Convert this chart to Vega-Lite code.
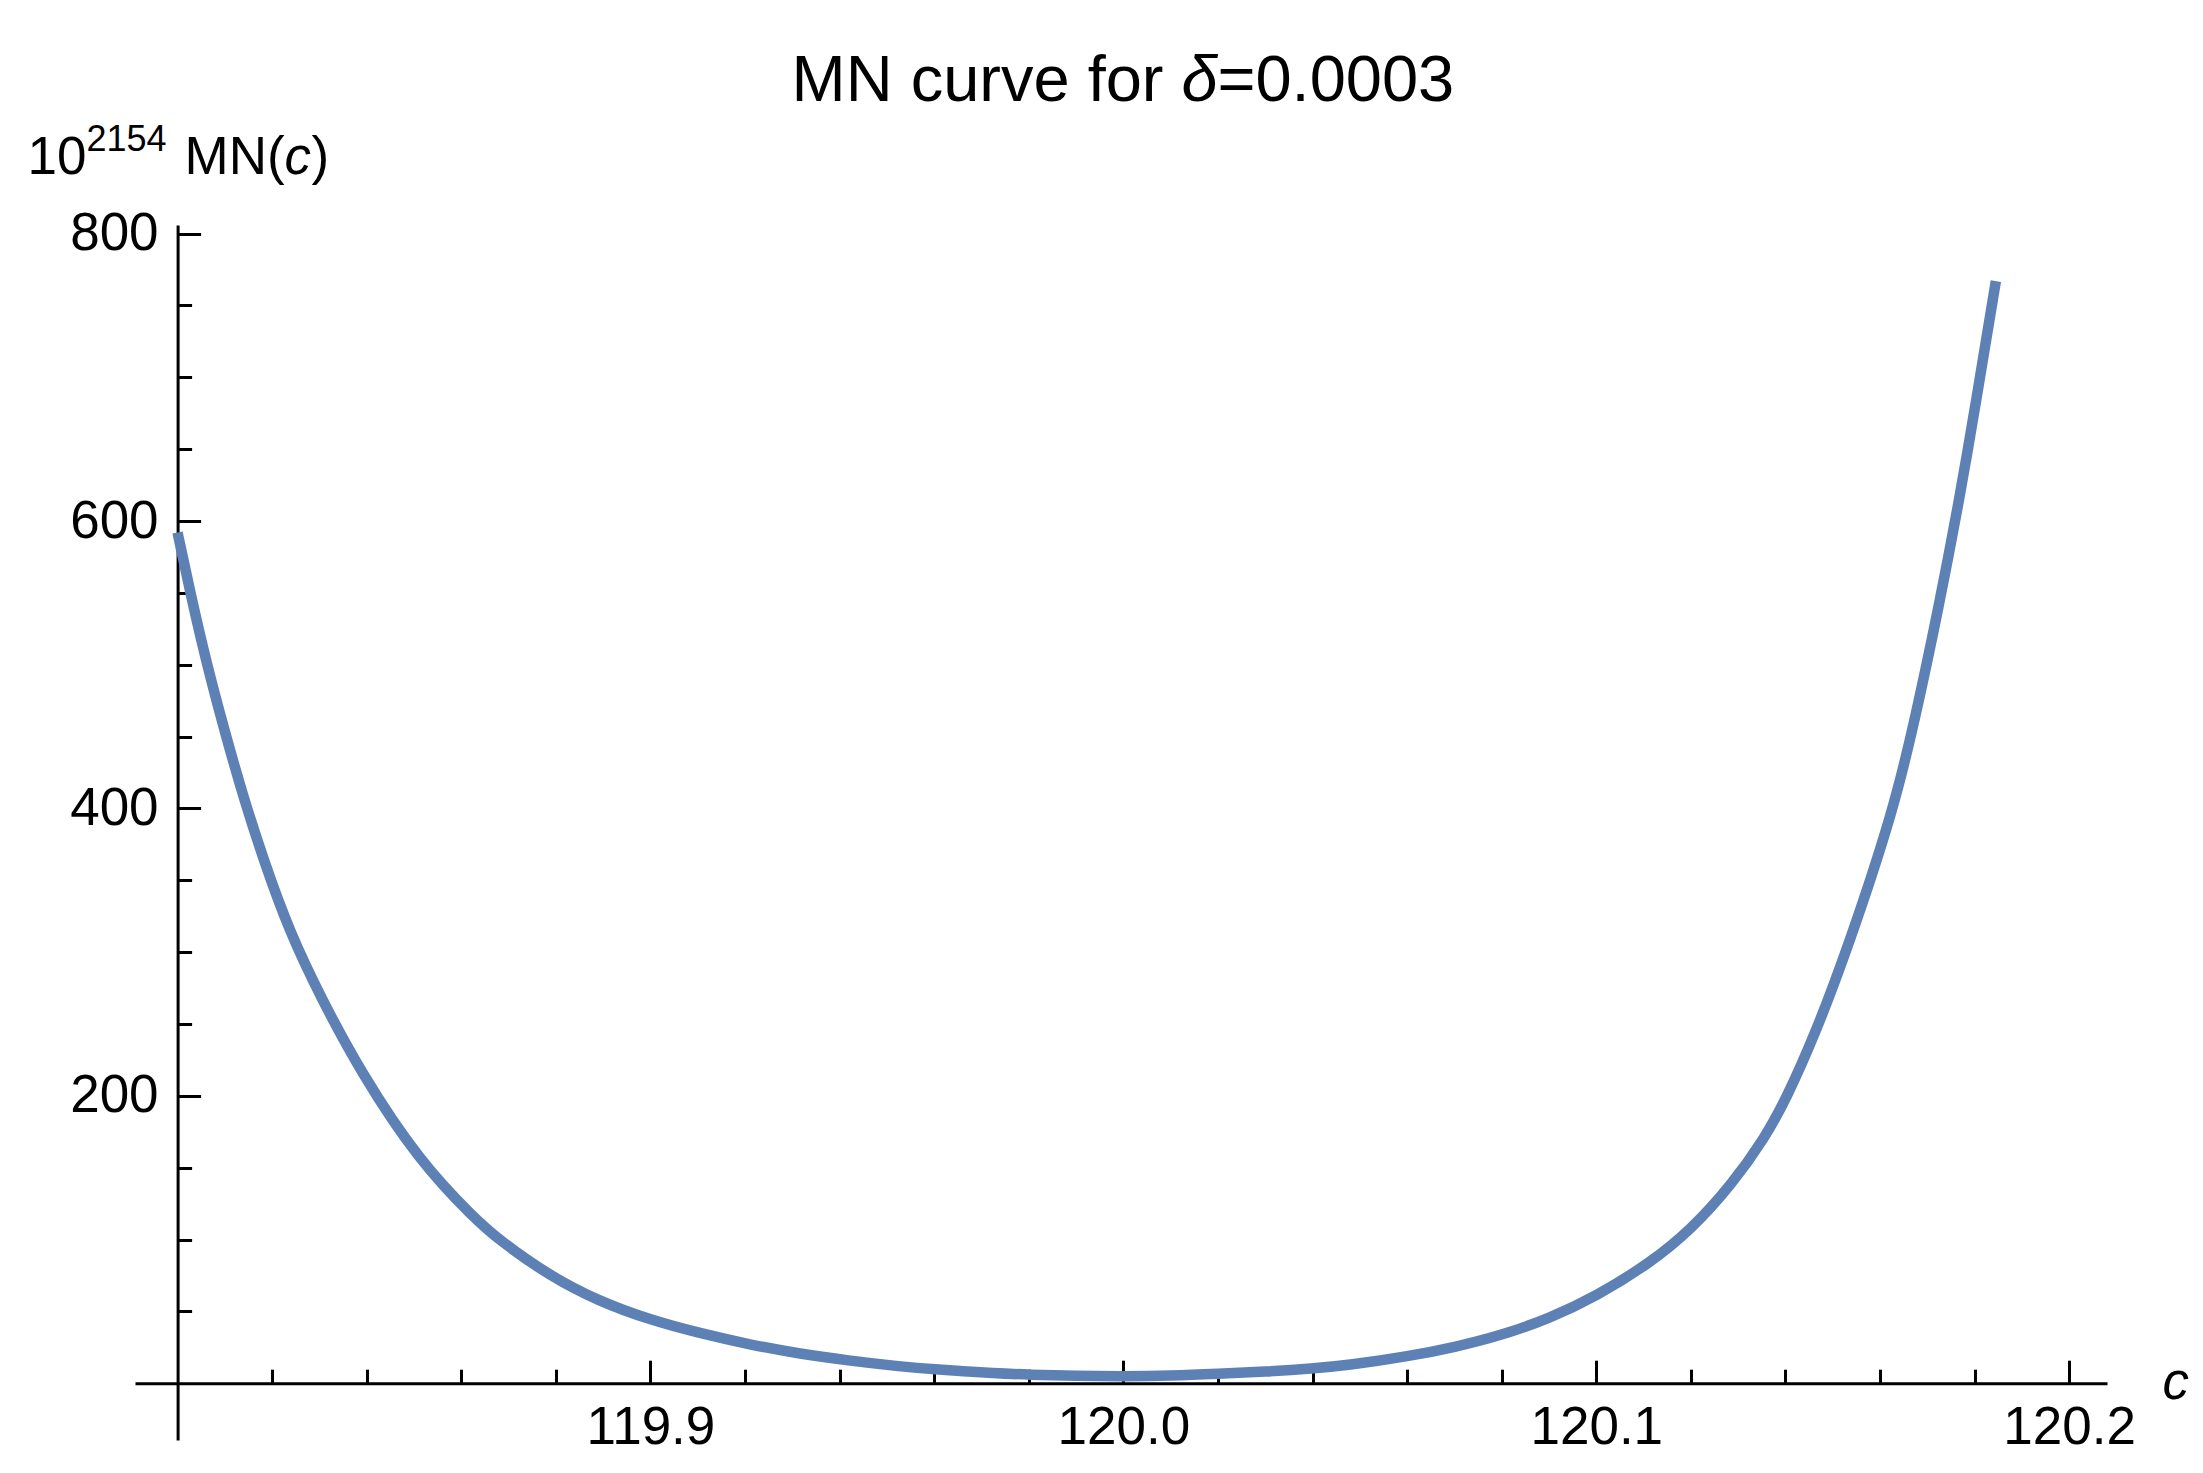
{
  "$schema": "https://vega.github.io/schema/vega-lite/v6.json",
  "width": 1972,
  "height": 1215,
  "autosize": "none",
  "padding": {"left": 135, "top": 225, "right": 96, "bottom": 33},
  "background": "white",
  "data": {
    "values": [
      {"c": 119.8, "mn": 592},
      {"c": 119.8027, "mn": 550},
      {"c": 119.8062, "mn": 500},
      {"c": 119.8101, "mn": 452},
      {"c": 119.8139, "mn": 408},
      {"c": 119.8184, "mn": 362},
      {"c": 119.8237, "mn": 314},
      {"c": 119.8302, "mn": 269},
      {"c": 119.8388, "mn": 216},
      {"c": 119.851, "mn": 155},
      {"c": 119.863, "mn": 114},
      {"c": 119.8679, "mn": 100},
      {"c": 119.8785, "mn": 75},
      {"c": 119.8891, "mn": 57},
      {"c": 119.9, "mn": 44},
      {"c": 119.9102, "mn": 35},
      {"c": 119.9208, "mn": 27},
      {"c": 119.9313, "mn": 20.6},
      {"c": 119.9419, "mn": 15.8},
      {"c": 119.9524, "mn": 11.8},
      {"c": 119.96, "mn": 9.6},
      {"c": 119.9736, "mn": 6.8},
      {"c": 119.98, "mn": 6},
      {"c": 119.99, "mn": 5.1},
      {"c": 120.0, "mn": 4.8},
      {"c": 120.01, "mn": 5.2},
      {"c": 120.02, "mn": 6.5},
      {"c": 120.03, "mn": 8},
      {"c": 120.04, "mn": 10.2},
      {"c": 120.0477, "mn": 12.6},
      {"c": 120.0601, "mn": 18.6},
      {"c": 120.07, "mn": 25},
      {"c": 120.0802, "mn": 33.6},
      {"c": 120.09, "mn": 45},
      {"c": 120.1, "mn": 60.6},
      {"c": 120.1111, "mn": 83},
      {"c": 120.1201, "mn": 107},
      {"c": 120.1287, "mn": 138.5},
      {"c": 120.1357, "mn": 171},
      {"c": 120.1401, "mn": 197.5},
      {"c": 120.1463, "mn": 243},
      {"c": 120.1533, "mn": 304},
      {"c": 120.1628, "mn": 398},
      {"c": 120.1674, "mn": 462},
      {"c": 120.1723, "mn": 538},
      {"c": 120.1769, "mn": 617},
      {"c": 120.1804, "mn": 685},
      {"c": 120.1845, "mn": 767}
    ]
  },
  "layer": [
    {
      "mark": {"type": "line", "color": "#5E81B5", "strokeWidth": 10.5, "strokeCap": "butt", "interpolate": "basis"},
      "encoding": {
        "x": {
          "field": "c", "type": "quantitative",
          "scale": {"domain": [119.791, 120.208], "nice": false, "zero": false},
          "axis": {
            "orient": "bottom", "offset": -56.8,
            "values": [119.9, 120.0, 120.1, 120.2], "format": ".1f",
            "tickSize": -23, "labelPadding": 41.6,
            "title": "c", "titleFontStyle": "italic", "titleX": 2027, "titleY": 14.8
          }
        },
        "y": {
          "field": "mn", "type": "quantitative",
          "scale": {"domain": [-39.5, 806], "nice": false, "zero": false},
          "axis": {
            "orient": "left", "offset": -42.6,
            "values": [200, 400, 600, 800], "format": "d",
            "tickSize": -23, "labelPadding": 42.5,
            "title": "10", "titleX": -150.6, "titleY": -52
          }
        }
      }
    },
    {
      "mark": {"type": "line", "opacity": 0},
      "encoding": {
        "x": {
          "field": "c", "type": "quantitative",
          "scale": {"domain": [119.791, 120.208], "nice": false, "zero": false},
          "axis": {
            "orient": "bottom", "offset": -56.8, "domain": false, "labels": false,
            "values": [119.82, 119.84, 119.86, 119.88, 119.92, 119.94, 119.96, 119.98, 120.02, 120.04, 120.06, 120.08, 120.12, 120.14, 120.16, 120.18],
            "tickSize": -14, "title": null
          }
        },
        "y": {
          "field": "mn", "type": "quantitative",
          "scale": {"domain": [-39.5, 806], "nice": false, "zero": false},
          "axis": {
            "orient": "left", "offset": -42.6, "domain": false, "labels": false,
            "values": [50, 100, 150, 250, 300, 350, 450, 500, 550, 650, 700, 750],
            "tickSize": -14,
            "title": "2154", "titleFontSize": 36, "titleX": -91.6, "titleY": -75
          }
        }
      }
    },
    {
      "mark": {"type": "line", "opacity": 0},
      "encoding": {
        "x": {
          "field": "c", "type": "quantitative",
          "scale": {"domain": [119.791, 120.208], "nice": false, "zero": false},
          "axis": {
            "orient": "top", "domain": false, "labels": false, "ticks": false,
            "title": "MN curve for", "titleFontSize": 65, "titleX": 656, "titleY": -125
          }
        },
        "y": {
          "field": "mn", "type": "quantitative",
          "scale": {"domain": [-39.5, 806], "nice": false, "zero": false},
          "axis": {
            "orient": "left", "domain": false, "labels": false, "ticks": false,
            "title": "MN(", "titleX": 49, "titleY": -52
          }
        }
      }
    },
    {
      "mark": {"type": "line", "opacity": 0},
      "encoding": {
        "x": {
          "field": "c", "type": "quantitative",
          "scale": {"domain": [119.791, 120.208], "nice": false, "zero": false},
          "axis": {
            "orient": "top", "domain": false, "labels": false, "ticks": false,
            "title": "δ", "titleFontStyle": "italic", "titleFontSize": 65, "titleX": 1046, "titleY": -125
          }
        },
        "y": {
          "field": "mn", "type": "quantitative",
          "scale": {"domain": [-39.5, 806], "nice": false, "zero": false},
          "axis": {
            "orient": "left", "domain": false, "labels": false, "ticks": false,
            "title": "c", "titleFontStyle": "italic", "titleX": 149, "titleY": -52
          }
        }
      }
    },
    {
      "mark": {"type": "line", "opacity": 0},
      "encoding": {
        "x": {
          "field": "c", "type": "quantitative",
          "scale": {"domain": [119.791, 120.208], "nice": false, "zero": false},
          "axis": {
            "orient": "top", "domain": false, "labels": false, "ticks": false,
            "title": "=0.0003", "titleFontSize": 65, "titleX": 1082, "titleY": -125
          }
        },
        "y": {
          "field": "mn", "type": "quantitative",
          "scale": {"domain": [-39.5, 806], "nice": false, "zero": false},
          "axis": {
            "orient": "left", "domain": false, "labels": false, "ticks": false,
            "title": ")", "titleX": 176, "titleY": -52
          }
        }
      }
    }
  ],
  "resolve": {"axis": {"x": "independent", "y": "independent"}},
  "config": {
    "view": {"stroke": null},
    "axis": {
      "grid": false,
      "labelFont": "Liberation Sans",
      "titleFont": "Liberation Sans",
      "labelFontSize": 53,
      "titleFontSize": 53,
      "titleFontWeight": "normal",
      "labelColor": "black",
      "titleColor": "black",
      "tickColor": "black",
      "domainColor": "black",
      "tickWidth": 3,
      "domainWidth": 3,
      "titleAngle": 0,
      "titleAlign": "left",
      "titleBaseline": "alphabetic",
      "labelFlush": false,
      "labelOverlap": false
    }
  }
}
